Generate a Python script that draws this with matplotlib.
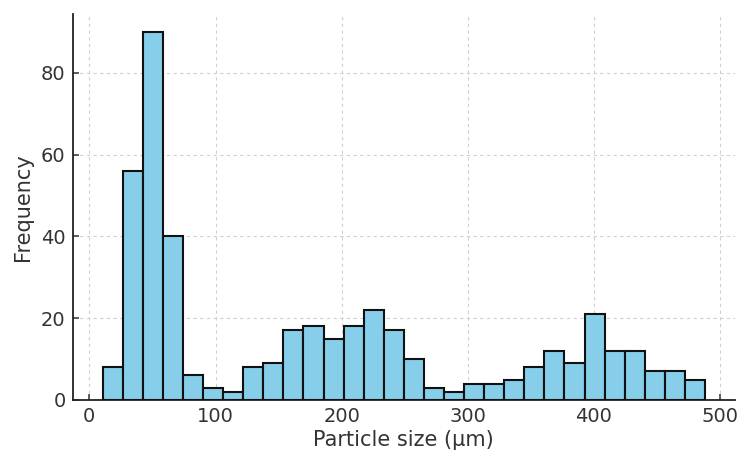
import numpy as np
import matplotlib
matplotlib.use("Agg")
import matplotlib.pyplot as plt

# Histogram data (30 equal-width bins)
bin_start = 10.6
bin_end = 488.0
counts = [8, 56, 90, 40, 6, 3, 2, 8, 9, 17, 18, 15, 18, 22, 17,
          10, 3, 2, 4, 4, 5, 8, 12, 9, 21, 12, 12, 7, 7, 5]
x_ticks = [0, 100, 200, 300, 400, 500]
y_ticks = [0, 20, 40, 60, 80]
x_label = "Particle size (µm)"
y_label = "Frequency"

edges = np.linspace(bin_start, bin_end, len(counts) + 1)
centers = (edges[:-1] + edges[1:]) / 2

plt.rcParams['font.family'] = ['DejaVu Sans']
fig = plt.figure(figsize=(7.41, 4.53), dpi=100)
ax = fig.add_axes([0.098, 0.117, 0.894, 0.853])

ax.hist(centers, bins=edges, weights=counts, color='#87CEEB',
        edgecolor='#111111', linewidth=1.5, zorder=3)

ax.grid(True, linestyle=(0, (3, 3)), color='#d0d0d0', linewidth=0.8, zorder=0)
ax.set_xticks(x_ticks)
ax.set_yticks(y_ticks)
ax.tick_params(direction='in', length=4, width=1.1, labelsize=14,
               colors='#333333', pad=5)
for s in ['top', 'right']:
    ax.spines[s].set_visible(False)
for s in ['left', 'bottom']:
    ax.spines[s].set_linewidth(1.3)
    ax.spines[s].set_color('#222222')

ax.set_xlabel(x_label, fontsize=15, color='#333333', labelpad=3)
ax.set_ylabel(y_label, fontsize=15, color='#333333', labelpad=6)

fig.savefig("out.png", dpi=100)
